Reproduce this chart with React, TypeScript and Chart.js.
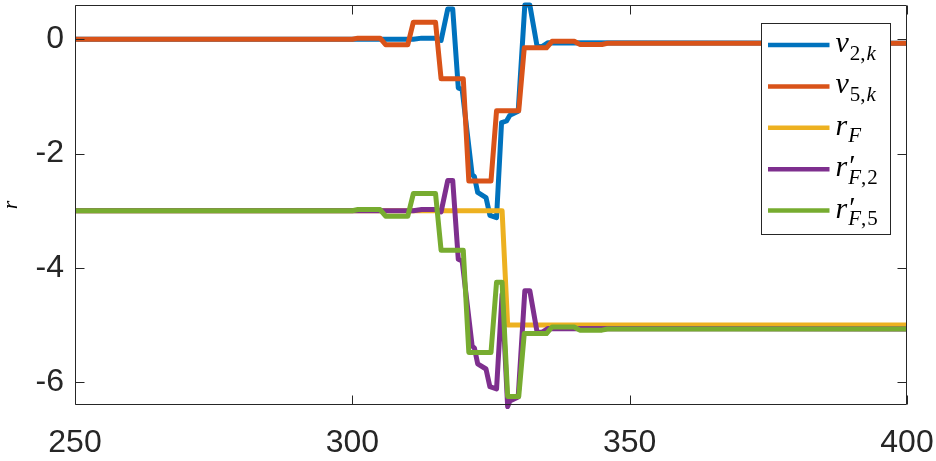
import React, { useEffect, useRef } from "react";
import { Chart, registerables } from "chart.js";

Chart.register(...registerables);

// ---- data ----
const xTickValues = [250, 300, 350, 400];
const yTickValues = [0, -2, -4, -6];

const v2X = [250, 311, 312.5, 315, 316, 317.2, 318.1, 319.1, 319.8, 321.6, 322, 322.6, 324.1, 324.8, 326, 326.9, 327.8, 328.4, 329.9, 331.1, 332, 333.3, 334.2, 335.3, 400];
const v2Y = [0, 0, 0.02, 0.02, -0.02, 0.53, 0.53, -0.85, -0.88, -2.37, -2.4, -2.68, -2.77, -3.08, -3.12, -1.46, -1.43, -1.33, -1.26, 0.6, 0.6, -0.12, -0.13, -0.06, -0.07];

const v5X = [250, 300, 301, 305, 306, 310, 311, 315, 316, 320, 321, 325, 326, 330, 331, 335, 336, 340, 341, 345, 346, 400];
const v5Y = [0, 0, 0.02, 0.02, -0.095, -0.095, 0.3, 0.3, -0.69, -0.69, -2.48, -2.48, -1.25, -1.25, -0.15, -0.15, -0.035, -0.035, -0.09, -0.09, -0.07, -0.07];

const rFX = [250, 327, 328, 400];
const rFY = [-3, -3, -5, -5];

const rF2X = [250, 311, 312.5, 315, 316, 317.2, 318.1, 319.1, 319.8, 321.6, 322, 322.6, 324.1, 324.8, 326, 327, 328, 328.4, 329.9, 331.1, 332, 333.3, 334.2, 335.3, 400];
const rF2Y = [-3, -3, -2.98, -2.98, -3.02, -2.47, -2.47, -3.85, -3.88, -5.37, -5.4, -5.68, -5.77, -6.08, -6.12, -4.46, -6.43, -6.33, -6.26, -4.4, -4.4, -5.12, -5.13, -5.06, -5.07];

const rF5X = [250, 300, 301, 305, 306, 310, 311, 315, 316, 320, 321, 325, 326, 327, 328, 330, 331, 335, 336, 340, 341, 345, 346, 400];
const rF5Y = [-3, -3, -2.98, -2.98, -3.095, -3.095, -2.7, -2.7, -3.69, -3.69, -5.48, -5.48, -4.25, -4.25, -6.25, -6.25, -5.15, -5.15, -5.035, -5.035, -5.09, -5.09, -5.07, -5.07];

const C_BLUE = "#0072BD";
const C_ORANGE = "#D95319";
const C_YELLOW = "#EDB120";
const C_PURPLE = "#7E2F8E";
const C_GREEN = "#77AC30";
const AXIS = "#262626";

type Seg = { t: string; it: boolean };
type LegendItem = { color: string; main: string; prime: boolean; sub: Seg[] };

const legendItems: LegendItem[] = [
  { color: C_BLUE, main: "v", prime: false, sub: [{ t: "2", it: false }, { t: ",", it: false }, { t: "k", it: true }] },
  { color: C_ORANGE, main: "v", prime: false, sub: [{ t: "5", it: false }, { t: ",", it: false }, { t: "k", it: true }] },
  { color: C_YELLOW, main: "r", prime: false, sub: [{ t: "F", it: true }] },
  { color: C_PURPLE, main: "r", prime: true, sub: [{ t: "F", it: true }, { t: ",", it: false }, { t: "2", it: false }] },
  { color: C_GREEN, main: "r", prime: true, sub: [{ t: "F", it: true }, { t: ",", it: false }, { t: "5", it: false }] },
];

const pts = (xs: number[], ys: number[]) => xs.map((x, i) => ({ x, y: ys[i] }));

const SERIF = "'Liberation Serif', 'DejaVu Serif', serif";
const SANS = "'Liberation Sans', Arial, sans-serif";

const boxPlugin = {
  id: "matlabBox",
  afterDatasetsDraw(chart: any) {
    const ctx = chart.ctx as CanvasRenderingContext2D;
    const { left, right, top, bottom } = chart.chartArea;
    const xs = chart.scales.x;
    const ys = chart.scales.y;
    ctx.save();
    ctx.strokeStyle = AXIS;
    ctx.lineWidth = 1;
    const L = Math.round(left) + 0.5;
    const R = Math.round(right) - 0.5;
    const T = Math.round(top) + 0.5;
    const B = Math.round(bottom) - 0.5;
    ctx.beginPath();
    ctx.rect(L, T, R - L, B - T);
    ctx.stroke();
    const tl = 9;
    ctx.beginPath();
    xTickValues.forEach((v) => {
      const px = Math.round(xs.getPixelForValue(v)) + 0.5;
      ctx.moveTo(px, B);
      ctx.lineTo(px, B - tl);
      ctx.moveTo(px, T);
      ctx.lineTo(px, T + tl);
    });
    yTickValues.forEach((v) => {
      const py = Math.round(ys.getPixelForValue(v)) + 0.5;
      ctx.moveTo(L, py);
      ctx.lineTo(L + tl, py);
      ctx.moveTo(R, py);
      ctx.lineTo(R - tl, py);
    });
    ctx.stroke();

    // legend
    const lw = 129;
    const lh = 211;
    const lx = Math.round(right) - 146 + 0.5;
    const ly = Math.round(top) + 18 + 0.5;
    ctx.fillStyle = "#ffffff";
    ctx.fillRect(lx, ly, lw, lh);
    ctx.strokeStyle = AXIS;
    ctx.strokeRect(lx, ly, lw, lh);
    const rowGap = 41.4;
    legendItems.forEach((it, i) => {
      const cy = ly + 21.5 + i * rowGap;
      ctx.strokeStyle = it.color;
      ctx.lineWidth = 4.5;
      ctx.lineCap = "butt";
      ctx.beginPath();
      ctx.moveTo(lx + 6.5, cy);
      ctx.lineTo(lx + 68, cy);
      ctx.stroke();
      ctx.fillStyle = "#000000";
      ctx.textBaseline = "alphabetic";
      ctx.textAlign = "left";
      const base = cy + 7;
      let x = lx + 74;
      ctx.font = `italic 30px ${SERIF}`;
      ctx.fillText(it.main, x, base);
      x += ctx.measureText(it.main).width + 1;
      if (it.prime) {
        ctx.font = `29px ${SERIF}`;
        ctx.fillText("\u2032", x + 1, base - 1);
      }
      let sx = x;
      it.sub.forEach((s) => {
        ctx.font = `${s.it ? "italic " : ""}21px ${SERIF}`;
        ctx.fillText(s.t, sx, base + 7.5);
        sx += ctx.measureText(s.t).width + (s.t === "," ? 1 : 0);
      });
    });
    ctx.restore();
  },
};

export default function App() {
  const ref = useRef<HTMLCanvasElement | null>(null);
  useEffect(() => {
    if (!ref.current) return;
    const mk = (label: string, xs: number[], ys: number[], color: string, order: number) => ({
      label,
      data: pts(xs, ys),
      borderColor: color,
      backgroundColor: color,
      borderWidth: 5,
      pointRadius: 0,
      pointHoverRadius: 0,
      tension: 0,
      fill: false,
      borderJoinStyle: "round" as const,
      borderCapStyle: "round" as const,
      order,
      clip: { left: 0, right: 0, top: 4, bottom: 4 },
    });
    const chart = new Chart(ref.current, {
      type: "line",
      data: {
        datasets: [
          mk("v2,k", v2X, v2Y, C_BLUE, 4),
          mk("v5,k", v5X, v5Y, C_ORANGE, 3),
          mk("rF", rFX, rFY, C_YELLOW, 2),
          mk("r'F,2", rF2X, rF2Y, C_PURPLE, 1),
          mk("r'F,5", rF5X, rF5Y, C_GREEN, 0),
        ],
      },
      options: {
        animation: false,
        responsive: false,
        maintainAspectRatio: false,
        events: [],
        layout: { padding: { left: 0, top: 5, right: 29, bottom: 0 } },
        plugins: {
          legend: { display: false },
          tooltip: { enabled: false },
        },
        scales: {
          x: {
            type: "linear",
            min: 250,
            max: 400,
            grid: { display: false, drawTicks: false },
            border: { display: false },
            afterBuildTicks: (s: any) => {
              s.ticks = xTickValues.map((v) => ({ value: v }));
            },
            afterFit: (s: any) => {
              s.height = 56;
              s.paddingLeft = 0;
              s.paddingRight = 0;
            },
            ticks: {
              autoSkip: false,
              maxRotation: 0,
              minRotation: 0,
              padding: 19,
              color: AXIS,
              font: { family: SANS, size: 32 },
              callback: (v: any) => String(v),
            },
          },
          y: {
            type: "linear",
            min: -6.4,
            max: 0.6,
            grid: { display: false, drawTicks: false },
            border: { display: false },
            afterBuildTicks: (s: any) => {
              s.ticks = yTickValues.map((v) => ({ value: v }));
            },
            afterFit: (s: any) => {
              s.width = 75;
              s.paddingTop = 0;
              s.paddingBottom = 0;
            },
            title: {
              display: true,
              text: "r",
              color: "#000000",
              padding: 0,
              font: { family: SERIF, size: 22, style: "italic", lineHeight: 1 },
            },
            ticks: {
              autoSkip: false,
              padding: 11,
              color: AXIS,
              font: { family: SANS, size: 32 },
              callback: (v: any) => String(v),
            },
          },
        },
      },
      plugins: [boxPlugin],
    });
    return () => chart.destroy();
  }, []);
  return (
    <div style={{ position: "fixed", left: 0, top: 0, width: 936, height: 461, background: "#ffffff" }}>
      <canvas ref={ref} width={936} height={461} style={{ display: "block", width: 936, height: 461 }} />
    </div>
  );
}
